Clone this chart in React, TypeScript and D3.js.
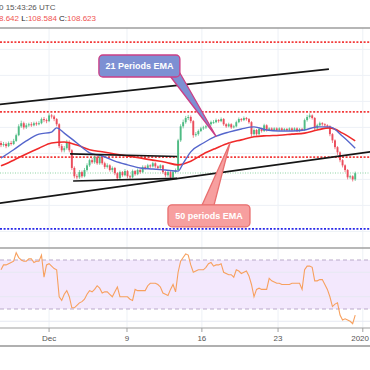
import React from 'react';
import * as d3 from 'd3';

const W = 370;
const H = 370;

// 4h candles, close values (open = previous close)
const firstOpen = 109.2;
const closes = [
  109.16, 109.18, 109.14, 109.2, 109.18, 109.24, 109.35, 109.52, 109.58, 109.5,
  109.54, 109.56, 109.54, 109.58, 109.56, 109.58, 109.66, 109.64, 109.62, 109.73,
  109.71, 109.66, 109.56, 109.14, 109.06, 109.1, 109.22, 109.06, 108.72, 108.56,
  108.54, 108.64, 108.56, 108.68, 108.77, 108.87, 108.83, 108.93, 108.81, 108.93,
  108.81, 108.74, 108.77, 108.68, 108.72, 108.62, 108.52, 108.64, 108.58, 108.66,
  108.56, 108.54, 108.66, 108.6, 108.68, 108.64, 108.74, 108.72, 108.77, 108.75,
  108.81, 108.75, 108.72, 108.77, 108.64, 108.58, 108.64, 108.54, 108.64, 108.68,
  109.25, 109.52, 109.6, 109.68, 109.7, 109.62, 109.35, 109.37, 109.43, 109.48,
  109.5, 109.52, 109.56, 109.6, 109.6, 109.64, 109.62, 109.66, 109.56, 109.52,
  109.56, 109.5, 109.52, 109.6, 109.66, 109.64, 109.68, 109.66, 109.6, 109.37,
  109.45, 109.37, 109.47, 109.43, 109.54, 109.45, 109.48, 109.45, 109.48, 109.45,
  109.48, 109.45, 109.47, 109.45, 109.48, 109.45, 109.48, 109.43, 109.47, 109.45,
  109.64, 109.7, 109.73, 109.68, 109.48, 109.54, 109.58, 109.56, 109.54, 109.52,
  109.37, 109.25, 109.12, 109.02, 108.87, 108.77, 108.68, 108.54, 108.56, 108.5,
  108.62,
];
const highs = [
  109.24, 109.22, 109.21, 109.23, 109.24, 109.28, 109.38, 109.56, 109.63, 109.61,
  109.58, 109.59, 109.6, 109.61, 109.61, 109.62, 109.69, 109.7, 109.67, 109.77,
  109.76, 109.74, 109.68, 109.58, 109.18, 109.14, 109.26, 109.25, 109.08, 108.75,
  108.6, 108.68, 108.67, 108.72, 108.81, 108.9, 108.91, 108.96, 108.95, 108.96,
  108.95, 108.84, 108.81, 108.79, 108.75, 108.74, 108.64, 108.67, 108.66, 108.7,
  108.68, 108.59, 108.69, 108.68, 108.71, 108.7, 108.77, 108.77, 108.8, 108.79,
  108.84, 108.83, 108.77, 108.79, 108.78, 108.66, 108.67, 108.66, 108.67, 108.71,
  109.28, 109.56, 109.65, 109.72, 109.74, 109.73, 109.64, 109.41, 109.46, 109.51,
  109.53, 109.55, 109.59, 109.63, 109.64, 109.67, 109.66, 109.69, 109.68, 109.58,
  109.59, 109.58, 109.55, 109.63, 109.69, 109.68, 109.71, 109.7, 109.68, 109.62,
  109.48, 109.47, 109.5, 109.49, 109.57, 109.56, 109.5, 109.5, 109.5, 109.5,
  109.5, 109.5, 109.49, 109.49, 109.5, 109.5, 109.5, 109.5, 109.49, 109.49,
  109.67, 109.74, 109.77, 109.75, 109.7, 109.57, 109.61, 109.6, 109.58, 109.56,
  109.54, 109.39, 109.27, 109.14, 109.04, 108.89, 108.79, 108.7, 108.59, 108.58,
  108.65,
];
const lows = [
  109.12, 109.13, 109.1, 109.12, 109.15, 109.16, 109.22, 109.33, 109.49, 109.46,
  109.47, 109.51, 109.51, 109.52, 109.53, 109.54, 109.56, 109.6, 109.58, 109.6,
  109.67, 109.62, 109.52, 109.1, 109.02, 109.02, 109.07, 109.02, 108.68, 108.52,
  108.5, 108.51, 108.53, 108.54, 108.65, 108.74, 108.8, 108.8, 108.78, 108.78,
  108.78, 108.7, 108.71, 108.65, 108.64, 108.58, 108.48, 108.5, 108.55, 108.56,
  108.52, 108.5, 108.52, 108.57, 108.58, 108.61, 108.62, 108.69, 108.7, 108.72,
  108.73, 108.72, 108.69, 108.7, 108.61, 108.54, 108.55, 108.51, 108.52, 108.62,
  108.66, 109.22, 109.48, 109.57, 109.64, 109.58, 109.3, 109.32, 109.34, 109.41,
  109.45, 109.47, 109.5, 109.53, 109.57, 109.58, 109.59, 109.6, 109.53, 109.49,
  109.5, 109.47, 109.48, 109.5, 109.58, 109.61, 109.62, 109.63, 109.57, 109.32,
  109.34, 109.34, 109.35, 109.4, 109.41, 109.42, 109.43, 109.43, 109.43, 109.43,
  109.43, 109.43, 109.43, 109.43, 109.43, 109.43, 109.43, 109.41, 109.41, 109.43,
  109.43, 109.61, 109.67, 109.65, 109.45, 109.46, 109.52, 109.53, 109.51, 109.49,
  109.33, 109.2, 109.08, 108.97, 108.83, 108.73, 108.64, 108.5, 108.51, 108.46,
  108.47,
];

// EMA lines
const ema21Idx = [0, 5, 10, 15, 20, 22, 25, 30, 35, 40, 45, 50, 55, 60, 65, 70, 72, 75, 80, 85, 90, 95, 100, 105, 110, 115, 120, 125, 130, 135, 140];
const ema21 = [108.91, 109.07, 109.24, 109.37, 109.41, 109.49, 109.39, 109.2, 109.01, 108.95, 108.85, 108.78, 108.72, 108.7, 108.68, 108.66, 108.81, 109.03, 109.2, 109.33, 109.41, 109.47, 109.51, 109.45, 109.43, 109.43, 109.45, 109.51, 109.51, 109.33, 109.1];
const ema50Idx = [0, 5, 10, 15, 20, 25, 30, 35, 40, 45, 50, 55, 60, 65, 70, 75, 80, 85, 90, 95, 100, 105, 110, 115, 120, 125, 130, 135, 140];
const ema50 = [108.76, 108.87, 108.99, 109.1, 109.2, 109.22, 109.16, 109.07, 109.03, 108.99, 108.95, 108.91, 108.87, 108.83, 108.78, 108.85, 108.99, 109.1, 109.2, 109.26, 109.32, 109.34, 109.35, 109.37, 109.39, 109.45, 109.49, 109.39, 109.24];

const rsi = [
  62, 66, 66, 67, 68, 69, 76, 72, 70, 69,
  69, 71, 71, 68, 69, 69, 74, 56, 66, 67,
  65, 63, 62, 40, 37, 42, 45, 40, 31, 31,
  33, 35, 36, 38, 42, 45, 44, 46, 49, 47,
  43, 44, 44, 42, 40, 44, 48, 40, 40, 40,
  40, 38, 37, 46, 45, 45, 45, 45, 49, 51,
  51, 51, 50, 48, 43, 42, 41, 46, 50, 44,
  60, 69, 72, 75, 74, 66, 60, 61, 62, 62,
  62, 64, 67, 68, 65, 66, 66, 67, 60, 59,
  58, 58, 56, 62, 61, 59, 60, 61, 57, 50,
  40, 46, 47, 46, 46, 46, 55, 53, 52, 51,
  51, 50, 50, 50, 50, 51, 51, 51, 51, 46,
  62, 65, 65, 64, 53, 53, 54, 54, 50, 46,
  40, 32, 34, 35, 25, 21, 22, 21, 20, 18,
  25,
];

const tickIdx = [19, 49.8, 79.4, 109.5, 143];
const tickLabels = ['Dec', '9', '16', '23', '2020'];

const redLevels = [111.14, 109.8, 108.93];
const blueLevel = 107.55;
const lastClose = 108.623;
const priceGrid = [107.5, 108, 108.5, 109, 109.5, 110, 110.5, 111];
const rsiGrid = [60, 40, 20];

// [index, price] pairs
const trendLines: [number, number][][] = [
  [[-1, 109.94], [129.6, 110.62]],
  [[-1, 108.04], [146, 109.03]],
  [[27.3, 108.99], [69.6, 108.94]],
  [[28.5, 108.47], [69.6, 108.52]],
];

const header1 = '0 15:43:26 UTC';
const header2 = [
  { t: '8.642 ', c: '#ef5350' },
  { t: 'L:', c: '#222' },
  { t: '108.584 ', c: '#ef5350' },
  { t: 'C:', c: '#222' },
  { t: '108.623', c: '#ef5350' },
];

const callouts = [
  {
    label: '21 Periods EMA', boxIdx: 54.7, boxPrice: 110.68, w: 81, h: 22,
    tipIdx: 85, tipPrice: 109.33, base: [[31, 10.5], [40.5, 7]],
    fill: '#7d90d3', stroke: '#cc3f86',
  },
  {
    label: '50 periods EMA', boxIdx: 82.2, boxPrice: 107.8, w: 82, h: 22,
    tipIdx: 90.5, tipPrice: 109.2, base: [[-7, -10.5], [5, -10.5]],
    fill: '#f79f9f', stroke: '#e86f6f',
  },
];

const UP = '#4fbb84';
const DOWN = '#eb4d5c';
const FONT = '"Liberation Sans", Arial, sans-serif';

export default function App() {
  const x = d3.scaleLinear().domain([0, 143]).range([1, 362.8]);
  const y = d3.scaleLinear().domain([107.181, 111.411]).range([248, 28]);
  const yR = d3.scaleLinear().domain([30, 70]).range([309, 260]);

  const emaLine = (idx: number[]) =>
    d3.line<number>()
      .x((_, k) => x(idx[k]))
      .y(v => y(v))
      .curve(d3.curveMonotoneX);

  const rsiLine = d3.line<number>()
    .x((_, i) => x(i))
    .y(v => yR(v));

  return (
    <svg width={W} height={H} style={{ position: 'fixed', left: 0, top: 0, background: '#fff' }} fontFamily={FONT}>
      <defs>
        <clipPath id="main"><rect x={0} y={29} width={W} height={218} /></clipPath>
        <clipPath id="rsi"><rect x={0} y={249} width={W} height={78} /></clipPath>
      </defs>

      {/* header */}
      <text x={-1} y={9.5} fontSize={8} fill="#555">{header1}</text>
      <text x={-1} y={21} fontSize={8}>
        {header2.map((p, i) => <tspan key={i} fill={p.c} style={{ whiteSpace: 'pre' }}>{p.t}</tspan>)}
      </text>

      {/* grid */}
      {tickIdx.map((t, i) => (
        <line key={i} x1={x(t)} x2={x(t)} y1={28} y2={328} stroke="#edf1f6" />
      ))}
      {priceGrid.map((p, i) => (
        <line key={i} x1={0} x2={W} y1={y(p)} y2={y(p)} stroke="#edf1f6" />
      ))}

      <g clipPath="url(#main)">
        {/* levels */}
        {redLevels.map((p, i) => (
          <line key={i} x1={0} x2={W} y1={y(p)} y2={y(p)} stroke="#f23b3b" strokeWidth={1.8} strokeDasharray="2 1.6" />
        ))}
        <line x1={0} x2={W} y1={y(blueLevel)} y2={y(blueLevel)} stroke="#2a2ae8" strokeWidth={1.8} strokeDasharray="2 1.6" />
        <line x1={0} x2={W} y1={y(lastClose)} y2={y(lastClose)} stroke="#8fd4a4" strokeWidth={1} strokeDasharray="1 1.5" />

        {/* candles */}
        {closes.map((c, i) => {
          const o = i === 0 ? firstOpen : closes[i - 1];
          const col = c >= o ? UP : DOWN;
          const cx = x(i);
          const top = y(Math.max(o, c));
          const bot = y(Math.min(o, c));
          return (
            <g key={i}>
              <line x1={cx} x2={cx} y1={y(highs[i])} y2={y(lows[i])} stroke={col} strokeWidth={0.7} />
              <rect x={cx - 0.95} width={1.9} y={top} height={Math.max(1, bot - top)} fill={col} />
            </g>
          );
        })}

        <path d={emaLine(ema50Idx)(ema50) || ''} fill="none" stroke="#f02a2a" strokeWidth={1.6} />
        <path d={emaLine(ema21Idx)(ema21) || ''} fill="none" stroke="#5566cc" strokeWidth={1.4} />

        {trendLines.map((l, i) => (
          <line key={i} x1={x(l[0][0])} y1={y(l[0][1])} x2={x(l[1][0])} y2={y(l[1][1])} stroke="#161616" strokeWidth={1.6} />
        ))}

        {/* callouts */}
        {callouts.map((c, i) => {
          const bx = x(c.boxIdx);
          const by = y(c.boxPrice);
          const tx = x(c.tipIdx);
          const ty = y(c.tipPrice);
          const wedge = `M${bx + c.base[0][0]},${by + c.base[0][1]}L${tx},${ty}L${bx + c.base[1][0]},${by + c.base[1][1]}Z`;
          return (
            <g key={i}>
              <path d={wedge} fill={c.fill} stroke={c.stroke} strokeWidth={1.3} strokeLinejoin="round" />
              <rect x={bx - c.w / 2} y={by - c.h / 2} width={c.w} height={c.h} rx={4} fill={c.fill} stroke={c.stroke} strokeWidth={1.3} />
              <text x={bx} y={by + 3.2} textAnchor="middle" fontSize={9} fontWeight="bold" fill="#fff">{c.label}</text>
            </g>
          );
        })}
      </g>

      {/* RSI pane */}
      <rect x={0} y={yR(70)} width={W} height={yR(30) - yR(70)} fill="#f3e8fd" />
      {rsiGrid.map((v, i) => (
        <line key={i} x1={0} x2={W} y1={yR(v)} y2={yR(v)} stroke="#e6e9f2" />
      ))}
      {[70, 30].map(v => (
        <line key={v} x1={0} x2={W} y1={yR(v)} y2={yR(v)} stroke="#b9a9c9" strokeDasharray="4 3" />
      ))}
      <g clipPath="url(#rsi)">
        <path d={rsiLine(rsi) || ''} fill="none" stroke="#f7a05e" strokeWidth={1.1} />
      </g>

      {/* frame lines */}
      <line x1={0} x2={W} y1={28} y2={28} stroke="#9e9e9e" strokeWidth={1.3} />
      <line x1={0} x2={W} y1={248} y2={248} stroke="#a0a0a0" strokeWidth={1.6} />
      <line x1={0} x2={W} y1={328} y2={328} stroke="#a0a0a0" strokeWidth={1.2} />
      <line x1={0} x2={W} y1={346} y2={346} stroke="#b0b0b0" strokeWidth={1.8} />

      {/* time axis */}
      {tickIdx.map((t, i) => {
        const tx = x(t);
        const last = i === tickIdx.length - 1;
        return (
          <g key={i}>
            <line x1={tx} x2={tx} y1={328} y2={332} stroke="#a0a0a0" />
            <text x={last ? W - 1 : tx} y={341} textAnchor={last ? 'end' : 'middle'} fontSize={8} fill="#555">{tickLabels[i]}</text>
          </g>
        );
      })}
    </svg>
  );
}
